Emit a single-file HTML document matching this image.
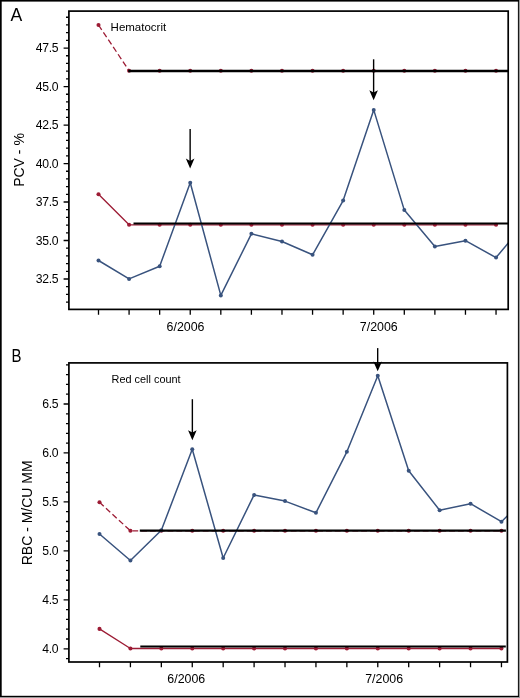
<!DOCTYPE html>
<html><head><meta charset="utf-8"><style>
html,body{margin:0;padding:0;background:#fff;}
body{width:520px;height:698px;overflow:hidden;}
svg{display:block;}
svg{will-change:transform;}
text{font-family:"Liberation Sans", sans-serif;fill:#000;}
.yl{font-size:12.2px;text-anchor:end;letter-spacing:-0.35px;}
.xl{font-size:12.4px;}
.pl{font-size:17.6px;}
.nt{font-size:10.9px;}
.nt2{font-size:11.5px;}
.ti{font-size:14px;}
</style></head><body>
<svg width="520" height="698" viewBox="0 0 520 698">
<defs>
<clipPath id="cA"><rect x="68.9" y="11.1" width="439.3" height="298.3"/></clipPath>
<clipPath id="cB"><rect x="68.9" y="362.9" width="438.5" height="299.1"/></clipPath>
</defs>
<rect x="0" y="0" width="520" height="698" fill="#fff"/>
<rect x="519" y="0" width="1" height="698" fill="#9a9a9a"/>
<rect x="0" y="697" width="520" height="1" fill="#9a9a9a"/>
<rect x="0" y="0" width="519" height="1.6" fill="#000"/>
<rect x="0" y="0" width="1.7" height="697" fill="#000"/>
<rect x="517.9" y="0" width="1.0" height="697" fill="#000"/>
<rect x="0" y="695.8" width="519" height="1.2" fill="#000"/>
<text x="10.6" y="20.8" class="pl">A</text>
<text x="0" y="0" class="ti" text-anchor="middle" transform="translate(24.2 160) rotate(-90)">PCV - %</text>
<path d="M63.6 48.05H68.9M63.6 86.54H68.9M63.6 125.03H68.9M63.6 163.53H68.9M63.6 202.02H68.9M63.6 240.51H68.9M63.6 279H68.9M66 17.26H68.9M66 24.95H68.9M66 32.65H68.9M66 40.35H68.9M66 55.75H68.9M66 63.45H68.9M66 71.15H68.9M66 78.84H68.9M66 94.24H68.9M66 101.94H68.9M66 109.64H68.9M66 117.34H68.9M66 132.73H68.9M66 140.43H68.9M66 148.13H68.9M66 155.83H68.9M66 171.23H68.9M66 178.92H68.9M66 186.62H68.9M66 194.32H68.9M66 209.72H68.9M66 217.42H68.9M66 225.12H68.9M66 232.81H68.9M66 248.21H68.9M66 255.91H68.9M66 263.61H68.9M66 271.31H68.9M66 286.7H68.9M66 294.4H68.9M66 302.1H68.9" stroke="#000" stroke-width="1.3" fill="none"/>
<text x="58.2" y="52.05" class="yl">47.5</text>
<text x="58.2" y="90.54" class="yl">45.0</text>
<text x="58.2" y="129.03" class="yl">42.5</text>
<text x="58.2" y="167.53" class="yl">40.0</text>
<text x="58.2" y="206.02" class="yl">37.5</text>
<text x="58.2" y="244.51" class="yl">35.0</text>
<text x="58.2" y="283" class="yl">32.5</text>
<path d="M98.5 309.4V314.7M129.08 309.4V314.7M159.66 309.4V314.7M190.24 309.4V314.7M220.82 309.4V314.7M251.4 309.4V314.7M281.98 309.4V314.7M312.56 309.4V314.7M343.14 309.4V314.7M373.72 309.4V314.7M404.3 309.4V314.7M434.88 309.4V314.7M465.46 309.4V314.7M496.04 309.4V314.7" stroke="#000" stroke-width="1.3" fill="none"/>
<text x="166.6" y="331" class="xl">6/2006</text>
<text x="359.8" y="331" class="xl">7/2006</text>
<text x="110.6" y="30.9" class="nt2">Hematocrit</text>
<path d="M98.5 25 L129.08 70.7 L496.04 70.7" stroke="#9c1b34" stroke-width="1.3" fill="none" stroke-linejoin="round" stroke-dasharray="5.8 3.0"/>
<circle cx="98.5" cy="25" r="2.05" fill="#9c1b34"/>
<circle cx="129.08" cy="70.7" r="2.05" fill="#9c1b34"/>
<circle cx="159.66" cy="70.7" r="2.05" fill="#9c1b34"/>
<circle cx="190.24" cy="70.7" r="2.05" fill="#9c1b34"/>
<circle cx="220.82" cy="70.7" r="2.05" fill="#9c1b34"/>
<circle cx="251.4" cy="70.7" r="2.05" fill="#9c1b34"/>
<circle cx="281.98" cy="70.7" r="2.05" fill="#9c1b34"/>
<circle cx="312.56" cy="70.7" r="2.05" fill="#9c1b34"/>
<circle cx="343.14" cy="70.7" r="2.05" fill="#9c1b34"/>
<circle cx="373.72" cy="70.7" r="2.05" fill="#9c1b34"/>
<circle cx="404.3" cy="70.7" r="2.05" fill="#9c1b34"/>
<circle cx="434.88" cy="70.7" r="2.05" fill="#9c1b34"/>
<circle cx="465.46" cy="70.7" r="2.05" fill="#9c1b34"/>
<circle cx="496.04" cy="70.7" r="2.05" fill="#9c1b34"/>
<path d="M98.5 194.2 L129.08 224.8 L496.04 224.8" stroke="#9c1b34" stroke-width="1.3" fill="none" stroke-linejoin="round"/>
<circle cx="98.5" cy="194.2" r="2.05" fill="#9c1b34"/>
<circle cx="129.08" cy="224.8" r="2.05" fill="#9c1b34"/>
<circle cx="159.66" cy="224.8" r="2.05" fill="#9c1b34"/>
<circle cx="190.24" cy="224.8" r="2.05" fill="#9c1b34"/>
<circle cx="220.82" cy="224.8" r="2.05" fill="#9c1b34"/>
<circle cx="251.4" cy="224.8" r="2.05" fill="#9c1b34"/>
<circle cx="281.98" cy="224.8" r="2.05" fill="#9c1b34"/>
<circle cx="312.56" cy="224.8" r="2.05" fill="#9c1b34"/>
<circle cx="343.14" cy="224.8" r="2.05" fill="#9c1b34"/>
<circle cx="373.72" cy="224.8" r="2.05" fill="#9c1b34"/>
<circle cx="404.3" cy="224.8" r="2.05" fill="#9c1b34"/>
<circle cx="434.88" cy="224.8" r="2.05" fill="#9c1b34"/>
<circle cx="465.46" cy="224.8" r="2.05" fill="#9c1b34"/>
<circle cx="496.04" cy="224.8" r="2.05" fill="#9c1b34"/>
<path d="M98.5 260.5 L129.08 278.9 L159.66 266.3 L190.24 182.7 L220.82 295.4 L251.4 233.8 L281.98 241.5 L312.56 254.8 L343.14 200.6 L373.72 109.9 L404.3 210.1 L434.88 246.6 L465.46 240.7 L496.04 257.6 L526.62 221" stroke="#39537e" stroke-width="1.5" fill="none" stroke-linejoin="round" clip-path="url(#cA)"/>
<circle cx="98.5" cy="260.5" r="2" fill="#39537e"/>
<circle cx="129.08" cy="278.9" r="2" fill="#39537e"/>
<circle cx="159.66" cy="266.3" r="2" fill="#39537e"/>
<circle cx="190.24" cy="182.7" r="2" fill="#39537e"/>
<circle cx="220.82" cy="295.4" r="2" fill="#39537e"/>
<circle cx="251.4" cy="233.8" r="2" fill="#39537e"/>
<circle cx="281.98" cy="241.5" r="2" fill="#39537e"/>
<circle cx="312.56" cy="254.8" r="2" fill="#39537e"/>
<circle cx="343.14" cy="200.6" r="2" fill="#39537e"/>
<circle cx="373.72" cy="109.9" r="2" fill="#39537e"/>
<circle cx="404.3" cy="210.1" r="2" fill="#39537e"/>
<circle cx="434.88" cy="246.6" r="2" fill="#39537e"/>
<circle cx="465.46" cy="240.7" r="2" fill="#39537e"/>
<circle cx="496.04" cy="257.6" r="2" fill="#39537e"/>
<path d="M128.2 71.0H508" stroke="#000" stroke-width="2.3"/>
<path d="M133.5 223.5H508" stroke="#000" stroke-width="2.1"/>
<path d="M190.14 129V162" stroke="#000" stroke-width="1.4" fill="none"/>
<path d="M190.14 168.6 L185.84 158.6 L190.14 161 L194.44 158.6 Z" fill="#000"/>
<path d="M373.62 59.3V93.6" stroke="#000" stroke-width="1.4" fill="none"/>
<path d="M373.62 100.2 L369.32 90.2 L373.62 92.6 L377.92 90.2 Z" fill="#000"/>
<rect x="68.9" y="11.1" width="439.3" height="298.3" fill="none" stroke="#000" stroke-width="1.7"/>
<text x="0" y="0" class="pl" transform="translate(11.6 361.8) scale(0.85 1)">B</text>
<text x="0" y="0" class="ti" text-anchor="middle" transform="translate(32 512.8) rotate(-90)">RBC - M/CU MM</text>
<path d="M63.6 404H68.9M63.6 452.96H68.9M63.6 501.92H68.9M63.6 550.88H68.9M63.6 599.84H68.9M63.6 648.8H68.9M66 658.59H68.9M66 639.01H68.9M66 629.22H68.9M66 619.42H68.9M66 609.63H68.9M66 590.05H68.9M66 580.26H68.9M66 570.46H68.9M66 560.67H68.9M66 541.09H68.9M66 531.3H68.9M66 521.5H68.9M66 511.71H68.9M66 492.13H68.9M66 482.34H68.9M66 472.54H68.9M66 462.75H68.9M66 443.17H68.9M66 433.38H68.9M66 423.58H68.9M66 413.79H68.9M66 394.21H68.9M66 384.42H68.9M66 374.62H68.9M66 364.83H68.9" stroke="#000" stroke-width="1.3" fill="none"/>
<text x="58.2" y="408" class="yl">6.5</text>
<text x="58.2" y="456.96" class="yl">6.0</text>
<text x="58.2" y="505.92" class="yl">5.5</text>
<text x="58.2" y="554.88" class="yl">5.0</text>
<text x="58.2" y="603.84" class="yl">4.5</text>
<text x="58.2" y="652.8" class="yl">4.0</text>
<path d="M99.5 662V667.3M130.42 662V667.3M161.34 662V667.3M192.26 662V667.3M223.18 662V667.3M254.1 662V667.3M285.02 662V667.3M315.94 662V667.3M346.86 662V667.3M377.78 662V667.3M408.7 662V667.3M439.62 662V667.3M470.54 662V667.3M501.46 662V667.3" stroke="#000" stroke-width="1.3" fill="none"/>
<text x="167.3" y="682.8" class="xl">6/2006</text>
<text x="365.2" y="682.8" class="xl">7/2006</text>
<text x="111.6" y="382.6" class="nt">Red cell count</text>
<path d="M99.5 502.3 L130.42 530.8 L501.46 530.8" stroke="#9c1b34" stroke-width="1.3" fill="none" stroke-linejoin="round" stroke-dasharray="5.8 3.0"/>
<circle cx="99.5" cy="502.3" r="2.05" fill="#9c1b34"/>
<circle cx="130.42" cy="530.8" r="2.05" fill="#9c1b34"/>
<circle cx="161.34" cy="530.8" r="2.05" fill="#9c1b34"/>
<circle cx="192.26" cy="530.8" r="2.05" fill="#9c1b34"/>
<circle cx="223.18" cy="530.8" r="2.05" fill="#9c1b34"/>
<circle cx="254.1" cy="530.8" r="2.05" fill="#9c1b34"/>
<circle cx="285.02" cy="530.8" r="2.05" fill="#9c1b34"/>
<circle cx="315.94" cy="530.8" r="2.05" fill="#9c1b34"/>
<circle cx="346.86" cy="530.8" r="2.05" fill="#9c1b34"/>
<circle cx="377.78" cy="530.8" r="2.05" fill="#9c1b34"/>
<circle cx="408.7" cy="530.8" r="2.05" fill="#9c1b34"/>
<circle cx="439.62" cy="530.8" r="2.05" fill="#9c1b34"/>
<circle cx="470.54" cy="530.8" r="2.05" fill="#9c1b34"/>
<circle cx="501.46" cy="530.8" r="2.05" fill="#9c1b34"/>
<path d="M99.5 628.9 L130.42 648.5 L501.46 648.5" stroke="#9c1b34" stroke-width="1.3" fill="none" stroke-linejoin="round"/>
<circle cx="99.5" cy="628.9" r="2.05" fill="#9c1b34"/>
<circle cx="130.42" cy="648.5" r="2.05" fill="#9c1b34"/>
<circle cx="161.34" cy="648.5" r="2.05" fill="#9c1b34"/>
<circle cx="192.26" cy="648.5" r="2.05" fill="#9c1b34"/>
<circle cx="223.18" cy="648.5" r="2.05" fill="#9c1b34"/>
<circle cx="254.1" cy="648.5" r="2.05" fill="#9c1b34"/>
<circle cx="285.02" cy="648.5" r="2.05" fill="#9c1b34"/>
<circle cx="315.94" cy="648.5" r="2.05" fill="#9c1b34"/>
<circle cx="346.86" cy="648.5" r="2.05" fill="#9c1b34"/>
<circle cx="377.78" cy="648.5" r="2.05" fill="#9c1b34"/>
<circle cx="408.7" cy="648.5" r="2.05" fill="#9c1b34"/>
<circle cx="439.62" cy="648.5" r="2.05" fill="#9c1b34"/>
<circle cx="470.54" cy="648.5" r="2.05" fill="#9c1b34"/>
<circle cx="501.46" cy="648.5" r="2.05" fill="#9c1b34"/>
<path d="M99.5 534 L130.42 560.5 L161.34 530.3 L192.26 449.2 L223.18 558 L254.1 494.9 L285.02 501.1 L315.94 512.8 L346.86 451.8 L377.78 375.8 L408.7 470.8 L439.62 510.2 L470.54 503.7 L501.46 521.7 L532.38 491" stroke="#39537e" stroke-width="1.5" fill="none" stroke-linejoin="round" clip-path="url(#cB)"/>
<circle cx="99.5" cy="534" r="2" fill="#39537e"/>
<circle cx="130.42" cy="560.5" r="2" fill="#39537e"/>
<circle cx="161.34" cy="530.3" r="2" fill="#39537e"/>
<circle cx="192.26" cy="449.2" r="2" fill="#39537e"/>
<circle cx="223.18" cy="558" r="2" fill="#39537e"/>
<circle cx="254.1" cy="494.9" r="2" fill="#39537e"/>
<circle cx="285.02" cy="501.1" r="2" fill="#39537e"/>
<circle cx="315.94" cy="512.8" r="2" fill="#39537e"/>
<circle cx="346.86" cy="451.8" r="2" fill="#39537e"/>
<circle cx="377.78" cy="375.8" r="2" fill="#39537e"/>
<circle cx="408.7" cy="470.8" r="2" fill="#39537e"/>
<circle cx="439.62" cy="510.2" r="2" fill="#39537e"/>
<circle cx="470.54" cy="503.7" r="2" fill="#39537e"/>
<circle cx="501.46" cy="521.7" r="2" fill="#39537e"/>
<path d="M139.8 530.65H505.9" stroke="#000" stroke-width="2.1"/>
<path d="M140.3 646.5H505.8" stroke="#000" stroke-width="2.0"/>
<path d="M192.36 399.2V433.6" stroke="#000" stroke-width="1.4" fill="none"/>
<path d="M192.36 440.2 L188.06 430.2 L192.36 432.6 L196.66 430.2 Z" fill="#000"/>
<rect x="68.9" y="362.9" width="438.5" height="299.1" fill="none" stroke="#000" stroke-width="1.7"/>
<path d="M377.68 348.1V365" stroke="#000" stroke-width="1.4" fill="none"/>
<path d="M377.68 371.2 L373.38 361.6 L377.68 364 L381.98 361.6 Z" fill="#000"/>
</svg></body></html>
